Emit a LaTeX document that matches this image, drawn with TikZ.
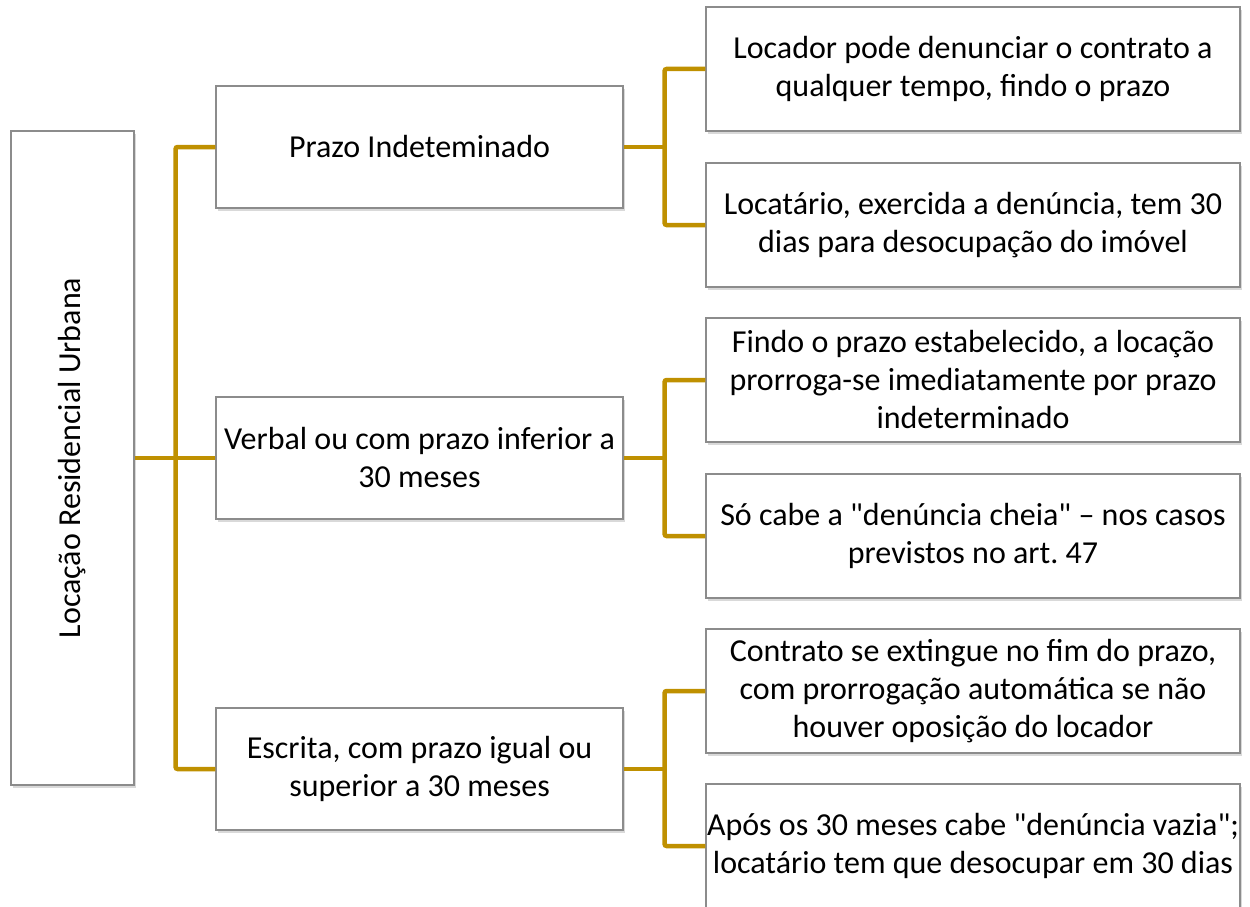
\documentclass[tikz,border=0pt]{standalone}
\usepackage{fontspec}
\newfontfamily\calib{Carlito}
\usetikzlibrary{shadows}
\definecolor{gold}{RGB}{191,144,0}
\definecolor{edge}{RGB}{140,140,140}
\begin{document}
\frenchspacing
\begin{tikzpicture}[x=1pt,y=-1pt,
  txt/.style={font=\calib\fontsize{32}{38}\selectfont},
  box/.style={txt,draw=edge,line width=1.2pt,fill=white,
    drop shadow={shadow xshift=2pt,shadow yshift=-3pt,opacity=0.25,fill=black!60},
    align=center,inner sep=0pt},
  midbox/.style={box,minimum width=407,minimum height=122},
  rbox/.style={box,minimum width=534,minimum height=124},
  conn/.style={draw=gold,line width=4.5pt,rounded corners=2pt}]
\useasboundingbox (0,0) rectangle (1250,907);
\node[box,minimum width=123,minimum height=654] (root) at (72.5,458) {};
\node[txt,rotate=90] (roottext) at (root.center) {Locação Residencial Urbana};

\node[midbox] (m1) at (419.5,147) {Prazo Indeteminado};
\node[midbox] (m2) at (419.5,458) {Verbal ou com prazo inferior a\\30 meses};
\node[midbox] (m3) at (419.5,769) {Escrita, com prazo igual ou\\superior a 30 meses};

\node[rbox] (r1) at (973,69) {Locador pode denunciar o contrato a\\qualquer tempo, findo o prazo};
\node[rbox] (r2) at (973,225) {Locatário, exercida a denúncia, tem 30\\dias para desocupação do imóvel};
\node[rbox] (r3) at (973,380) {Findo o prazo estabelecido, a locação\\prorroga-se imediatamente por prazo\\indeterminado};
\node[rbox] (r4) at (973,536) {Só cabe a "denúncia cheia" – nos casos\\previstos no art. 47};
\node[rbox] (r5) at (973,691) {Contrato se extingue no fim do prazo,\\com prorrogação automática se não\\houver oposição do locador};
\node[rbox] (r6) at (973,846) {Após os 30 meses cabe "denúncia vazia";\\locatário tem que desocupar em 30 dias};

\coordinate (j0) at ([xshift=41]root.east);
\coordinate (j1) at ([xshift=41]m1.east);
\coordinate (j2) at ([xshift=41]m2.east);
\coordinate (j3) at ([xshift=41]m3.east);

\draw[conn] (root.east) -- (j0);
\draw[conn] (j0) |- (m1.west);
\draw[conn] (j0) |- (m3.west);
\draw[conn] (j0) -- (m2.west);

\draw[conn] (m1.east) -- (j1);
\draw[conn] (j1) |- (r1.west);
\draw[conn] (j1) |- (r2.west);
\draw[conn] (m2.east) -- (j2);
\draw[conn] (j2) |- (r3.west);
\draw[conn] (j2) |- (r4.west);
\draw[conn] (m3.east) -- (j3);
\draw[conn] (j3) |- (r5.west);
\draw[conn] (j3) |- (r6.west);
\end{tikzpicture}
\end{document}
